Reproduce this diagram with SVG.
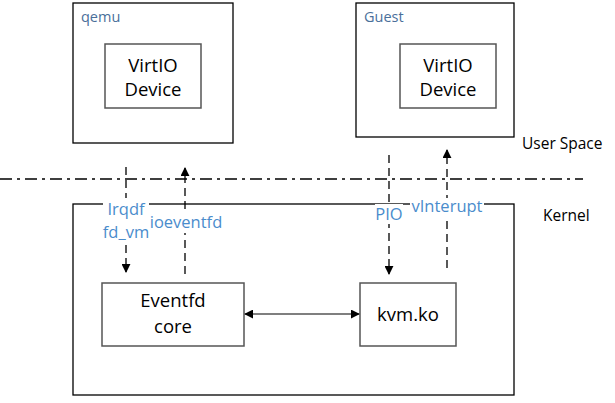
<svg xmlns="http://www.w3.org/2000/svg" width="615" height="403" viewBox="0 0 615 403">
<defs>
<style>
.box{fill:#fff;stroke:#000;stroke-width:1.3}
.ibox{fill:#fff;stroke:#555;stroke-width:1.5}
.t{font-family:"Open Sans","Liberation Sans",sans-serif;font-size:18.5px;fill:#000;text-anchor:middle}
.lbl{font-family:"Open Sans","Liberation Sans",sans-serif;font-size:16.5px;fill:#4a8ccc;text-anchor:middle}
.hd{font-family:"Open Sans","Liberation Sans",sans-serif;font-size:14.5px;fill:#4a6f9a}
.side{font-family:"Open Sans","Liberation Sans",sans-serif;font-size:15.5px;fill:#000}
.dash{stroke:#000;stroke-width:1.3;stroke-dasharray:8,5;fill:none}
.solid{stroke:#000;stroke-width:1.2;fill:none}
</style>
<marker id="ah" viewBox="0 0 10 10" refX="9" refY="5" markerWidth="9" markerHeight="9" markerUnits="userSpaceOnUse" orient="auto-start-reverse">
<path d="M0,0 L10,5 L0,10 z" fill="#000"/>
</marker>
</defs>
<g id="divider">
<line x1="0" y1="179" x2="583" y2="179" stroke="#000" stroke-width="1.3" stroke-dasharray="12,5,3,5"/>
</g>
<g id="qemu">
<rect class="box" x="73" y="3" width="160" height="140"/>
<text class="hd" x="81" y="22">qemu</text>
</g>
<g id="qemu-virtio">
<rect class="ibox" x="105" y="44" width="96" height="64"/>
<text class="t" x="153" y="72">VirtIO</text>
<text class="t" x="153" y="96">Device</text>
</g>
<g id="guest">
<rect class="box" x="356" y="3" width="158" height="134"/>
<text class="hd" x="364" y="22">Guest</text>
</g>
<g id="guest-virtio">
<rect class="ibox" x="400" y="44" width="96" height="64"/>
<text class="t" x="448" y="72">VirtIO</text>
<text class="t" x="448" y="96">Device</text>
</g>
<g id="kernel">
<rect class="box" x="73" y="204" width="441" height="191"/>
</g>
<g id="eventfd">
<rect class="ibox" x="102" y="283" width="142" height="63"/>
<text class="t" x="173" y="307">Eventfd</text>
<text class="t" x="173" y="333">core</text>
</g>
<g id="kvm">
<rect class="ibox" x="360" y="283" width="96" height="63"/>
<text class="t" x="408" y="321">kvm.ko</text>
</g>
<g id="connectors">
<line class="dash" x1="126" y1="167" x2="126" y2="272" marker-end="url(#ah)"/>
<line class="dash" x1="185" y1="274" x2="185" y2="168" marker-end="url(#ah)"/>
<line class="dash" x1="389" y1="155" x2="389" y2="274" marker-end="url(#ah)"/>
<line class="dash" x1="447" y1="268" x2="447" y2="150" marker-end="url(#ah)"/>
<line class="solid" x1="245" y1="314" x2="359" y2="314" marker-start="url(#ah)" marker-end="url(#ah)"/>
</g>
<g id="labels">
<rect x="103" y="198" width="46" height="42" fill="#fff"/>
<text class="lbl" x="126" y="215">Irqdf</text>
<text class="lbl" x="126" y="238">fd_vm</text>
<rect x="150" y="213" width="73" height="20" fill="#fff"/>
<text class="lbl" x="186" y="228">ioeventfd</text>
<rect x="375" y="204" width="28" height="20" fill="#fff"/>
<text class="lbl" x="389" y="220">PIO</text>
<rect x="410" y="198" width="74" height="18" fill="#fff"/>
<text class="lbl" x="447" y="212">vInterupt</text>
</g>
<g id="side-labels">
<text class="side" x="522" y="149">User Space</text>
<text class="side" x="543" y="221">Kernel</text>
</g>
</svg>
